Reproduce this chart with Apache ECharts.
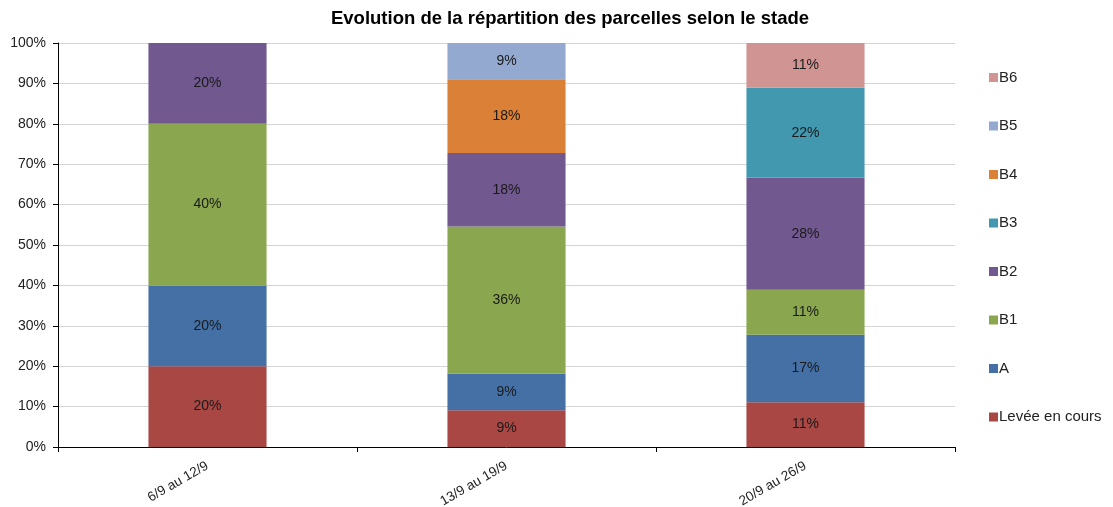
<!DOCTYPE html>
<html>
<head>
<meta charset="utf-8">
<script src="https://cdn.jsdelivr.net/npm/echarts@6/dist/echarts.min.js"></script>
<style>
  html, body { margin: 0; padding: 0; background: #fff; }
  #chart { width: 1113px; height: 507px; }
</style>
</head>
<body>
<div id="chart"></div>
<script>
  // periodes (axe des x)
  const periodes = ['6/9 au 12/9', '13/9 au 19/9', '20/9 au 26/9'];
  const stades = ['Levée en cours', 'A', 'B1', 'B2', 'B3', 'B4', 'B5', 'B6'];
  const couleurs = ['#A94744', '#4470A6', '#8AA64E', '#71588F', '#4198AF', '#DA8137', '#93A9CF', '#D09493'];

  // part de chaque stade en %, par periode
  const leveeEnCours = [20, 9.1, 11.1];
  const stadeA = [20, 9.1, 16.7];
  const stadeB1 = [40, 36.4, 11.1];
  const stadeB2 = [20, 18.2, 27.8];
  const stadeB3 = [0, 0, 22.2];
  const stadeB4 = [0, 18.2, 0];
  const stadeB5 = [0, 9.1, 0];
  const stadeB6 = [0, 0, 11.1];

  const yTicks = [0, 10, 20, 30, 40, 50, 60, 70, 80, 90, 100];

  const valeurs = [leveeEnCours, stadeA, stadeB1, stadeB2, stadeB3, stadeB4, stadeB5, stadeB6];

  let myChart = echarts.init(document.getElementById('chart'));

  let series = stades.map(function (nom, i) {
    return {
      name: nom,
      type: 'bar',
      stack: 'total',
      barWidth: '39.5%',
      itemStyle: { color: couleurs[i] },
      label: {
        show: true,
        position: 'inside',
        color: '#1a1a1a',
        fontSize: 14,
        fontFamily: 'Liberation Sans, Arial, sans-serif',
        formatter: function (p) {
          return p.value > 0 ? Math.round(p.value) + '%' : '';
        }
      },
      data: valeurs[i].map(function (v) { return v > 0 ? v : null; })
    };
  });

  myChart.setOption({
    animation: false,
    textStyle: { fontFamily: 'Liberation Sans, Arial, sans-serif' },
    title: {
      text: 'Evolution de la répartition des parcelles selon le stade',
      left: 565,
      top: 4,
      textAlign: 'center',
      textStyle: { fontSize: 18.5, fontWeight: 'bold', color: '#000' }
    },
    legend: {
      orient: 'vertical',
      left: 984,
      top: 65,
      itemGap: 33.5,
      itemWidth: 9,
      itemHeight: 9,
      icon: 'rect',
      data: stades.slice().reverse(),
      textStyle: { fontSize: 15, color: '#222', padding: [0, 0, 0, -4] }
    },
    grid: { left: 58, right: 158, top: 43, bottom: 60, outerBoundsMode: 'none' },
    xAxis: {
      type: 'category',
      data: periodes,
      axisLine: { lineStyle: { color: '#000', width: 1 } },
      axisTick: { show: true, length: 5, lineStyle: { color: '#000' } },
      axisLabel: {
        rotate: 30,
        fontSize: 13.5,
        color: '#222',
        margin: 18
      }
    },
    yAxis: {
      type: 'value',
      min: 0,
      max: 100,
      interval: 10,
      axisLine: { show: true, lineStyle: { color: '#000' } },
      axisTick: { show: true, length: 5, lineStyle: { color: '#000' } },
      splitLine: { lineStyle: { color: '#d4d4d4' } },
      axisLabel: {
        fontSize: 14,
        color: '#222',
        margin: 12,
        formatter: function (v) { return yTicks.indexOf(v) >= 0 ? v + '%' : ''; }
      }
    },
    series: series
  });
</script>
</body>
</html>
